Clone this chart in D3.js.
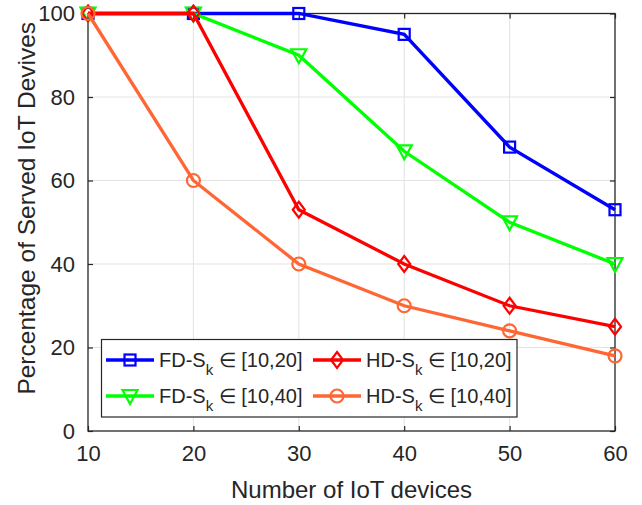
<!DOCTYPE html>
<html>
<head>
<meta charset="utf-8">
<script src="https://cdn.jsdelivr.net/npm/d3@7"></script>
<style>
  body { margin: 0; background: #fff; }
  text { font-family: "Liberation Sans", Arial, Helvetica, sans-serif; fill: #262626; }
</style>
</head>
<body>
<svg width="642" height="505"></svg>
<script>
// data
var devices = [10, 20, 30, 40, 50, 60];
var fd20 = [100, 100, 100, 95, 68, 53];
var fd40 = [100, 100, 90, 67, 50, 40];
var hd20 = [100, 100, 53, 40, 30, 25];
var hd40 = [100, 60, 40, 30, 24, 18];
var xTicks = [10, 20, 30, 40, 50, 60];
var yTicks = [0, 20, 40, 60, 80, 100];

var series = [
  { name: "FD", range: "[10,20]", values: fd20, color: "#0000ff", marker: "square" },
  { name: "FD", range: "[10,40]", values: fd40, color: "#00ff00", marker: "triangle" },
  { name: "HD", range: "[10,20]", values: hd20, color: "#ff0000", marker: "diamond" },
  { name: "HD", range: "[10,40]", values: hd40, color: "#ff6633", marker: "circle" }
];

var svg = d3.select("svg"),
    plotL = 88, plotR = 615, plotT = 13.5, plotB = 431,
    axisColor = "#262626";

var x = d3.scaleLinear().domain([10, 60]).range([plotL, plotR]);
var y = d3.scaleLinear().domain([0, 100]).range([plotB, plotT]);

// grid
svg.append("g").selectAll("line")
  .data(xTicks.slice(1, -1))
  .enter().append("line")
    .attr("x1", function(d) { return x(d); }).attr("x2", function(d) { return x(d); })
    .attr("y1", plotT).attr("y2", plotB)
    .attr("stroke", "#e3e3e3").attr("stroke-width", 1);
svg.append("g").selectAll("line")
  .data(yTicks.slice(1, -1))
  .enter().append("line")
    .attr("y1", function(d) { return y(d); }).attr("y2", function(d) { return y(d); })
    .attr("x1", plotL).attr("x2", plotR)
    .attr("stroke", "#e3e3e3").attr("stroke-width", 1);

// axes (ticks inside, box on)
function styleAxis(g) {
  g.select(".domain").remove();
  g.selectAll(".tick line").attr("stroke", axisColor).attr("stroke-width", 1.2);
  g.selectAll(".tick text").attr("fill", axisColor)
    .style("font-family", "'Liberation Sans', Arial, sans-serif").style("font-size", "22px");
}
svg.append("g").attr("transform", "translate(0," + plotB + ")")
  .call(d3.axisBottom(x).tickValues(xTicks).tickSizeInner(-5).tickPadding(14))
  .call(styleAxis);
svg.append("g").attr("transform", "translate(0," + plotT + ")")
  .call(d3.axisTop(x).tickValues(xTicks).tickSizeInner(-5).tickFormat(""))
  .call(styleAxis);
svg.append("g").attr("transform", "translate(" + plotL + ",0)")
  .call(d3.axisLeft(y).tickValues(yTicks).tickSizeInner(-5).tickPadding(13))
  .call(styleAxis);
svg.append("g").attr("transform", "translate(" + plotR + ",0)")
  .call(d3.axisRight(y).tickValues(yTicks).tickSizeInner(-5).tickFormat(""))
  .call(styleAxis);

svg.append("rect")
  .attr("x", plotL).attr("y", plotT)
  .attr("width", plotR - plotL).attr("height", plotB - plotT)
  .attr("fill", "none").attr("stroke", axisColor).attr("stroke-width", 1.3);

// markers
function drawMarker(g, type, color) {
  if (type == "square") {
    g.append("rect").attr("x", -5.5).attr("y", -5.5).attr("width", 11).attr("height", 11)
      .attr("fill", "none").attr("stroke", color).attr("stroke-width", 2.2);
  } else if (type == "triangle") {
    g.append("path").attr("d", "M-7.5,-6L7.5,-6L0,8Z")
      .attr("fill", "none").attr("stroke", color).attr("stroke-width", 2.2);
  } else if (type == "diamond") {
    g.append("path").attr("d", "M0,-8L6,0L0,8L-6,0Z")
      .attr("fill", "none").attr("stroke", color).attr("stroke-width", 2.2);
  } else {
    g.append("circle").attr("r", 6.5)
      .attr("fill", "none").attr("stroke", color).attr("stroke-width", 2.2);
  }
}

var line = d3.line()
  .x(function(d) { return x(d[0]); })
  .y(function(d) { return y(d[1]); });

series.forEach(function(s) {
  var pts = devices.map(function(d, i) { return [d, s.values[i]]; });
  svg.append("path")
    .datum(pts)
    .attr("d", line)
    .attr("fill", "none")
    .attr("stroke", s.color)
    .attr("stroke-width", 3.3);
  pts.forEach(function(p) {
    var g = svg.append("g").attr("transform", "translate(" + x(p[0]) + "," + y(p[1]) + ")");
    drawMarker(g, s.marker, s.color);
  });
});

// axis labels
svg.append("text")
  .attr("x", (plotL + plotR) / 2).attr("y", 498)
  .attr("text-anchor", "middle")
  .style("font-size", "24px")
  .text("Number of IoT devices");
svg.append("text")
  .attr("transform", "translate(35," + ((plotT + plotB) / 2 - 14) + ") rotate(-90)")
  .attr("text-anchor", "middle")
  .style("font-size", "24.5px")
  .text("Percentage of Served IoT Devives");

// legend
var legend = svg.append("g");
legend.append("rect")
  .attr("x", 101.5).attr("y", 339.5).attr("width", 415.5).attr("height", 77.5)
  .attr("fill", "#fff").attr("stroke", axisColor).attr("stroke-width", 1.2);

var slots = [[106, 360], [106, 396], [313, 360], [313, 396]];
series.forEach(function(s, i) {
  var sx = slots[i][0], sy = slots[i][1];
  var g = legend.append("g").attr("transform", "translate(" + sx + "," + sy + ")");
  g.append("line").attr("x1", 0).attr("x2", 48).attr("y1", 0).attr("y2", 0)
    .attr("stroke", s.color).attr("stroke-width", 3.3);
  drawMarker(g.append("g").attr("transform", "translate(24,0)"), s.marker, s.color);
  var t = g.append("text").attr("x", 53).attr("y", 7).style("font-size", "20px");
  t.append("tspan").text(s.name + "-S");
  t.append("tspan").attr("dy", 8).style("font-size", "15px").text("k");
  t.append("tspan").attr("dy", -8).text(" \u2208 " + s.range);
});
</script>
</body>
</html>
